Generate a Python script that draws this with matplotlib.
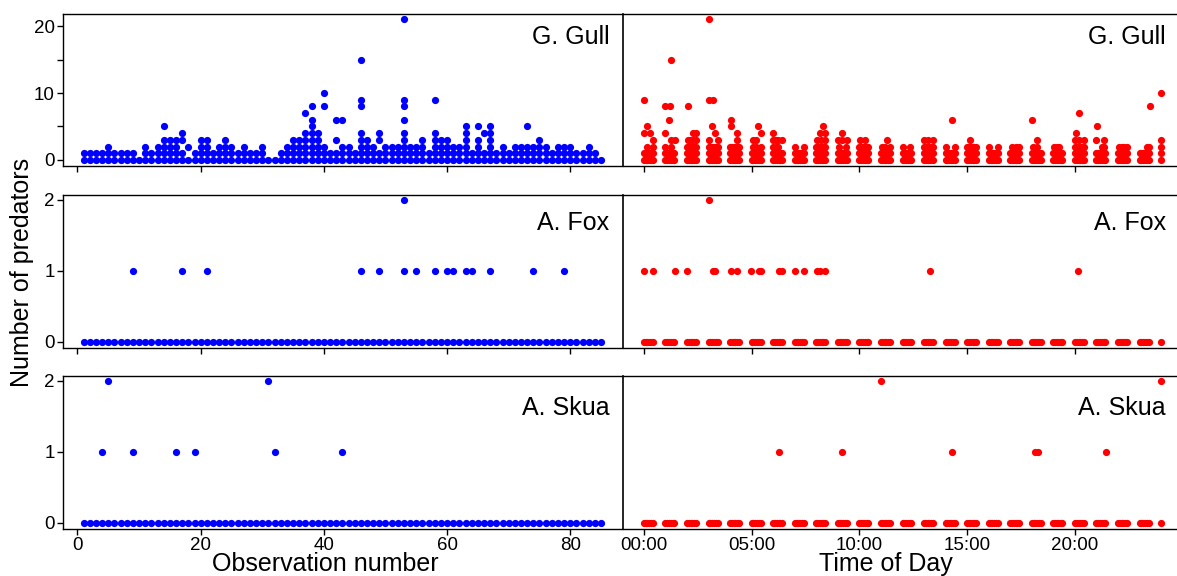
import matplotlib
matplotlib.use("Agg")
import matplotlib.pyplot as plt

plt.rcParams['font.family'] = ['Liberation Sans', 'DejaVu Sans']

# ---- left column: observation number ----
OBS = list(range(1, 86))
# distinct gull counts seen within each observation (obs 1..85)
GULL_OBS_COUNTS = [
    [0, 1], [0, 1], [0, 1], [0, 1], [0, 1, 2], [0, 1], [0, 1], [0, 1], [0, 1], [0],
    [0, 1, 2], [0, 1], [0, 1, 2], [0, 1, 2, 3, 5], [0, 1, 2, 3], [0, 1, 2, 3], [0, 1, 3, 4], [0, 2], [0, 1], [0, 1, 2, 3],
    [0, 1, 2, 3], [0, 1], [0, 1, 2], [0, 1, 2, 3], [0, 1, 2], [0, 1], [0, 1, 2], [0, 1], [0, 1], [0, 1, 2],
    [0], [0], [0, 1], [0, 1, 2], [0, 1, 2, 3], [0, 1, 2, 3], [0, 1, 2, 3, 4, 7], [0, 1, 2, 3, 4, 5, 6, 8], [0, 1, 2, 3, 4], [0, 1, 2, 8, 10],
    [0, 1], [0, 1, 3, 6], [0, 1, 2, 6], [0, 1, 2], [0, 1], [0, 1, 2, 3, 4, 8, 9, 15], [0, 1, 2, 3], [0, 1, 2], [0, 1, 3, 4], [0, 1, 2],
    [0, 1, 2], [0, 1, 2], [0, 1, 2, 3, 4, 6, 8, 9, 21], [0, 1, 2], [0, 1, 2], [0, 1, 2, 3], [0, 1], [0, 1, 2, 3, 4, 9], [0, 1, 2, 3], [0, 1, 2, 3],
    [0, 1, 2], [0, 1, 2], [0, 1, 2, 3, 4, 5], [0, 1], [0, 1, 2, 3, 5], [0, 1, 4], [0, 1, 2, 3, 4, 5], [0, 1], [0, 1, 2], [0, 1],
    [0, 1, 2], [0, 1, 2], [0, 1, 2, 5], [0, 1, 2], [0, 1, 2, 3], [0, 1, 2], [0, 1], [0, 1, 2], [0, 1, 2], [0, 1, 2],
    [0, 1], [0, 1], [0, 1, 2], [0, 1], [0],
]
FOX_OBS_ONE = [9, 17, 21, 46, 49, 53, 55, 58, 60, 61, 63, 64, 67, 74, 79]
FOX_OBS_TWO = [53]
SKUA_OBS_ONE = [4, 9, 16, 19, 32, 43]
SKUA_OBS_TWO = [5, 31]

# ---- right column: time of day ----
SCAN_HOURS = list(range(24))
SCAN_MINUTES = [0, 5, 10, 15, 20, 25]
LAST_SCAN = 24.0
# every scan in an hour block has counts 0..GULL_TOD_FULL[h]
GULL_TOD_FULL = [1, 1, 2, 2, 2, 1, 1, 1, 2, 1, 2, 1, 1, 2, 1, 2, 1, 1, 1, 1, 2, 1, 1, 1]
GULL_TOD_T = [0.15, 0.42, 0.42, 0.0, 0.3, 0.15, 0.0,
              1.0, 1.28, 1.28, 1.42, 1.0, 1.16, 1.0, 1.19, 1.28,
              2.05, 2.15, 2.3, 2.42, 2.26, 2.42, 2.03,
              3.02, 3.42, 3.3, 3.15, 3.02, 3.2, 3.03,
              4.3, 4.3, 4.02, 4.02,
              5.04, 5.21, 5.42, 5.04, 5.21, 5.42, 5.3,
              6.0, 6.12, 6.23, 6.0, 6.12, 6.23, 6.39, 6.0,
              7.0, 7.42,
              8.02, 8.24, 8.42, 8.17, 8.42, 8.32,
              9.05, 9.4, 9.02, 9.2, 9.42, 9.17,
              10.02, 10.25,
              11.03, 11.2, 11.4, 11.3,
              12.03, 12.34,
              13.0, 13.19, 13.42,
              14.01, 14.42, 14.3,
              15.15,
              16.03, 16.42,
              17.1, 17.25, 17.4,
              18.04, 18.22, 18.22, 18.0,
              19.03, 19.15, 19.26,
              20.0, 20.2, 20.42, 20.03, 20.19,
              21.25, 21.35, 20.98, 21.35, 21.02,
              22.05, 22.18, 22.3, 22.4,
              23.33, 23.42, 23.48,
              24.0, 24.0, 24.0]
GULL_TOD_N = [2, 2, 3, 4, 4, 5, 9,
              2, 2, 3, 3, 4, 6, 8, 8, 15,
              3, 3, 3, 3, 4, 4, 8,
              3, 3, 4, 5, 9, 9, 21,
              3, 4, 5, 6,
              2, 2, 2, 3, 3, 4, 5,
              2, 2, 2, 3, 3, 3, 3, 4,
              2, 2,
              3, 3, 3, 4, 4, 5,
              2, 2, 3, 3, 3, 4,
              3, 3,
              2, 2, 2, 3,
              2, 2,
              3, 3, 3,
              2, 2, 6,
              3,
              2, 2,
              2, 2, 2,
              2, 2, 3, 6,
              2, 2, 2,
              3, 3, 3, 4, 7,
              2, 2, 3, 3, 5,
              2, 2, 2, 2,
              2, 2, 8,
              2, 3, 10]
FOX_TOD_ONE = [0.0, 0.42, 1.42, 2.01, 3.19, 3.29, 4.03, 4.31, 4.97, 5.35, 5.42,
               6.29, 6.42, 6.99, 7.42, 8.03, 8.15, 8.42, 13.28, 20.15]
FOX_TOD_TWO = [3.03]
SKUA_TOD_ONE = [6.29, 9.17, 14.3, 18.14, 18.3, 21.43]
SKUA_TOD_TWO = [10.98, 24.0]

BLUE = '#0000ff'
RED = '#ff0000'
DOT = 27

W, H = 1177, 576
fig = plt.figure(figsize=(W / 100, H / 100), dpi=100)


def box(x0, x1, y0, y1):
    return [x0 / W, 1 - y1 / H, (x1 - x0) / W, (y1 - y0) / H]


rows = [(14, 166), (195, 348), (376, 529)]
axes = []
for r, (y0, y1) in enumerate(rows):
    axl = fig.add_axes(box(63, 622, y0, y1))
    axr = fig.add_axes(box(623, 1176, y0, y1))
    axes.append((axl, axr))

scan_t = [h + m / 60 for h in SCAN_HOURS for m in SCAN_MINUTES] + [LAST_SCAN]

# gull
axl, axr = axes[0]
gx = [o for o, cs in zip(OBS, GULL_OBS_COUNTS) for c in cs]
gy = [c for o, cs in zip(OBS, GULL_OBS_COUNTS) for c in cs]
axl.scatter(gx, gy, s=DOT, color=BLUE, linewidths=0)
tx, ty = [], []
for h in SCAN_HOURS:
    for m in SCAN_MINUTES:
        for c in range(GULL_TOD_FULL[h] + 1):
            tx.append(h + m / 60)
            ty.append(c)
tx += [LAST_SCAN, LAST_SCAN]
ty += [0, 1]
axr.scatter(tx + GULL_TOD_T, ty + GULL_TOD_N, s=DOT, color=RED, linewidths=0)

# fox
axl, axr = axes[1]
axl.scatter(OBS + FOX_OBS_ONE + FOX_OBS_TWO,
            [0] * len(OBS) + [1] * len(FOX_OBS_ONE) + [2] * len(FOX_OBS_TWO),
            s=DOT, color=BLUE, linewidths=0)
axr.scatter(scan_t + FOX_TOD_ONE + FOX_TOD_TWO,
            [0] * len(scan_t) + [1] * len(FOX_TOD_ONE) + [2] * len(FOX_TOD_TWO),
            s=DOT, color=RED, linewidths=0)

# skua
axl, axr = axes[2]
axl.scatter(OBS + SKUA_OBS_ONE + SKUA_OBS_TWO,
            [0] * len(OBS) + [1] * len(SKUA_OBS_ONE) + [2] * len(SKUA_OBS_TWO),
            s=DOT, color=BLUE, linewidths=0)
axr.scatter(scan_t + SKUA_TOD_ONE + SKUA_TOD_TWO,
            [0] * len(scan_t) + [1] * len(SKUA_TOD_ONE) + [2] * len(SKUA_TOD_TWO),
            s=DOT, color=RED, linewidths=0)

names = ['G. Gull', 'A. Fox', 'A. Skua']
label_y = [0.85, 0.82, 0.79]
for r, (axl, axr) in enumerate(axes):
    for ax in (axl, axr):
        ax.spines['right'].set_visible(False)
        for sp in ax.spines.values():
            sp.set_linewidth(1.0)
        ax.tick_params(direction='out', length=4, width=1, labelsize=13.5, pad=2)
    axr.spines['left'].set_linewidth(1.2)
    axl.set_xlim(-2.35, 88.4)
    axr.set_xlim(-0.97, 24.69)
    axl.set_xticks([0, 20, 40, 60, 80])
    axr.set_xticks([0, 5, 10, 15, 20])
    if r == 0:
        axl.set_ylim(-0.9, 21.8)
        axr.set_ylim(-0.9, 21.8)
        axl.set_yticks([0, 5, 10, 15, 20])
        axl.set_yticklabels(['0', '', '10', '', '20'])
    else:
        axl.set_ylim(-0.09, 2.07)
        axr.set_ylim(-0.09, 2.07)
        axl.set_yticks([0, 1, 2])
    axr.set_yticks([])
    if r < 2:
        axl.set_xticklabels([])
        axr.set_xticklabels([])
    else:
        axr.set_xticklabels(['00:00', '05:00', '10:00', '15:00', '20:00'])
    axl.text(0.977, label_y[r], names[r], transform=axl.transAxes,
             ha='right', va='center', fontsize=18)
    axr.text(0.982, label_y[r], names[r], transform=axr.transAxes,
             ha='right', va='center', fontsize=18)

fig.text(325 / W, 1 - 564 / H, 'Observation number', ha='center', va='center', fontsize=18)
fig.text(886 / W, 1 - 564 / H, 'Time of Day', ha='center', va='center', fontsize=18)
fig.text(22 / W, 1 - 272 / H, 'Number of predators', ha='center', va='center',
         rotation=90, fontsize=18)

fig.savefig('out.png', dpi=100)
